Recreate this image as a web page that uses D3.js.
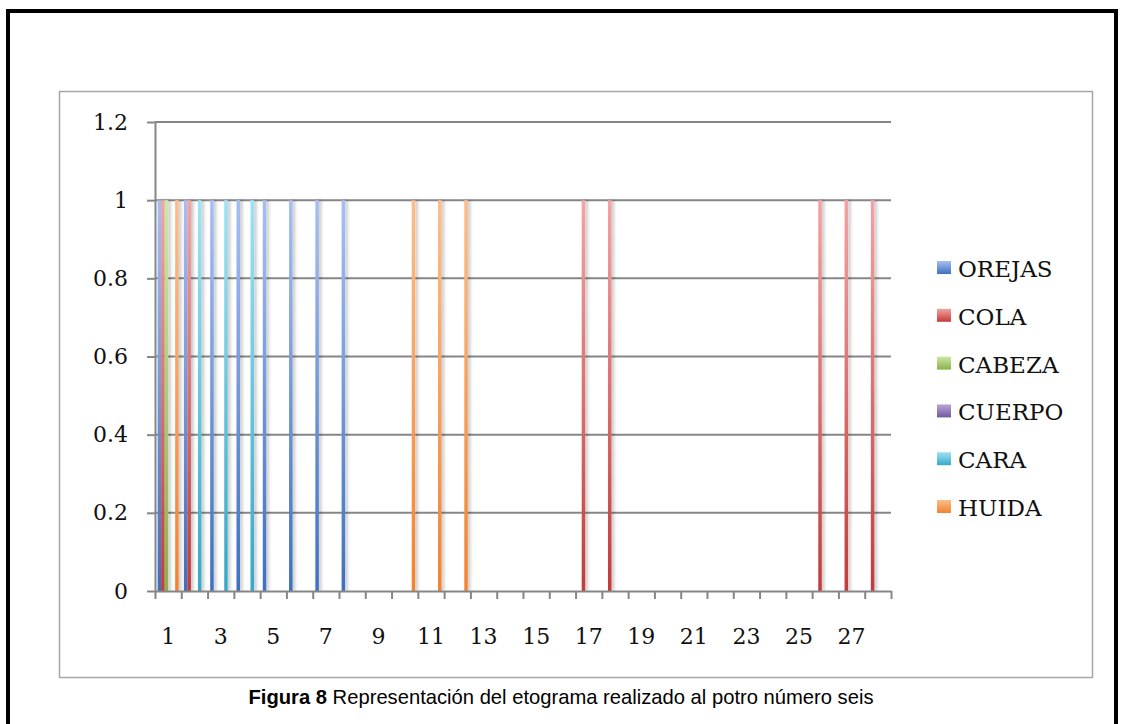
<!DOCTYPE html>
<html>
<head>
<meta charset="utf-8">
<script src="https://cdn.jsdelivr.net/npm/d3@7"></script>
<style>
  html, body { margin: 0; padding: 0; background: #fff; }
  svg { display: block; }
</style>
</head>
<body>
<svg id="chart" width="1122" height="724"></svg>
<script>
// Observation sessions (x axis)
const categories = [1, 2, 3, 4, 5, 6, 7, 8, 9, 10, 11, 12, 13, 14,
                    15, 16, 17, 18, 19, 20, 21, 22, 23, 24, 25, 26, 27, 28];
const xTickLabels = [1, 3, 5, 7, 9, 11, 13, 15, 17, 19, 21, 23, 25, 27];
const yTickValues = [0, 0.2, 0.4, 0.6, 0.8, 1, 1.2];

// Behaviour categories of the ethogram
const seriesNames = ["OREJAS", "COLA", "CABEZA", "CUERPO", "CARA", "HUIDA"];
const orejas = [1, 1, 1, 1, 1, 1, 1, 1, 0, 0, 0, 0, 0, 0, 0, 0, 0, 0, 0, 0, 0, 0, 0, 0, 0, 0, 0, 0];
const cola   = [1, 1, 0, 0, 0, 0, 0, 0, 0, 0, 0, 0, 0, 0, 0, 0, 1, 1, 0, 0, 0, 0, 0, 0, 0, 1, 1, 1];
const cabeza = [1, 0, 0, 0, 0, 0, 0, 0, 0, 0, 0, 0, 0, 0, 0, 0, 0, 0, 0, 0, 0, 0, 0, 0, 0, 0, 0, 0];
const cuerpo = [0, 0, 0, 0, 0, 0, 0, 0, 0, 0, 0, 0, 0, 0, 0, 0, 0, 0, 0, 0, 0, 0, 0, 0, 0, 0, 0, 0];
const cara   = [0, 1, 1, 1, 0, 0, 0, 0, 0, 0, 0, 0, 0, 0, 0, 0, 0, 0, 0, 0, 0, 0, 0, 0, 0, 0, 0, 0];
const huida  = [1, 0, 0, 0, 0, 0, 0, 0, 0, 1, 1, 1, 0, 0, 0, 0, 0, 0, 0, 0, 0, 0, 0, 0, 0, 0, 0, 0];
const seriesValues = [orejas, cola, cabeza, cuerpo, cara, huida];

// Light (top) and deep (bottom) tone of each series
const colorsLight = ["#a6bff2", "#f4a3a3", "#cde8a6", "#b9a6d8", "#9fe2f4", "#fbbd8a"];
const colorsDeep  = ["#3e6fc1", "#c23b3a", "#8cb04a", "#7258a0", "#36a8c6", "#f28330"];

const labelFont = "'DejaVu Serif', 'Liberation Serif', serif";

const svg = d3.select("#chart");
const defs = svg.append("defs");

seriesNames.forEach((name, i) => {
  const g = defs.append("linearGradient")
    .attr("id", "grad" + i)
    .attr("x1", 0).attr("y1", 0).attr("x2", 0).attr("y2", 1);
  g.append("stop").attr("offset", "0%").attr("stop-color", colorsLight[i]);
  g.append("stop").attr("offset", "100%").attr("stop-color", colorsDeep[i]);
});

const shadow = defs.append("filter").attr("id", "barShadow")
  .attr("x", "-200%").attr("y", "-5%").attr("width", "500%").attr("height", "110%");
shadow.append("feDropShadow")
  .attr("dx", 2.5).attr("dy", 0).attr("stdDeviation", 1.4)
  .attr("flood-color", "#000").attr("flood-opacity", 0.22);

// Outer page border
svg.append("rect")
  .attr("x", 8).attr("y", 11).attr("width", 1108).attr("height", 740)
  .attr("fill", "none").attr("stroke", "#000").attr("stroke-width", 4);

// Chart frame
svg.append("rect")
  .attr("x", 59.5).attr("y", 91.5).attr("width", 1033).attr("height", 586)
  .attr("fill", "#fff").attr("stroke", "#a6a6a6").attr("stroke-width", 1.5);

const plot = { left: 155, right: 891, top: 122, bottom: 591 };

const x = d3.scaleBand()
  .domain(categories)
  .range([plot.left, plot.right])
  .paddingInner(0.2)
  .paddingOuter(0.1);

const xBound = d3.scaleLinear()
  .domain([0, categories.length])
  .range([plot.left, plot.right]);

const xs = d3.scaleBand()
  .domain(seriesNames)
  .range([0, x.bandwidth()]);

const y = d3.scaleLinear()
  .domain([0, 1.2])
  .range([plot.bottom, plot.top]);

// Horizontal gridlines
svg.append("g")
  .selectAll("line")
  .data(yTickValues.filter(v => v > 0))
  .join("line")
  .attr("x1", plot.left).attr("x2", plot.right)
  .attr("y1", d => y(d)).attr("y2", d => y(d))
  .attr("stroke", "#868686").attr("stroke-width", 2);

// Bars
const barData = [];
seriesValues.forEach((vals, si) => {
  vals.forEach((v, ci) => {
    if (v > 0) barData.push({ s: si, c: categories[ci], v: v });
  });
});

svg.append("g")
  .selectAll("rect")
  .data(barData)
  .join("rect")
  .attr("x", d => x(d.c) + xs(seriesNames[d.s]))
  .attr("y", d => y(d.v))
  .attr("width", xs.bandwidth())
  .attr("height", d => y(0) - y(d.v))
  .attr("fill", d => "url(#grad" + d.s + ")")
  .attr("filter", "url(#barShadow)");

// Y axis
const yAxis = svg.append("g")
  .attr("transform", `translate(${plot.left},0)`)
  .call(d3.axisLeft(y).tickValues(yTickValues).tickFormat(d3.format("~g"))
    .tickSize(8).tickSizeOuter(0).tickPadding(19));
yAxis.select(".domain").attr("stroke", "#868686").attr("stroke-width", 2);
yAxis.selectAll(".tick line").attr("stroke", "#868686").attr("stroke-width", 2);
yAxis.selectAll("text")
  .attr("fill", "#111")
  .style("font-family", labelFont)
  .style("font-size", "22px");

// X axis: tick marks on category boundaries
const xAxisTicks = svg.append("g")
  .attr("transform", `translate(0,${plot.bottom})`)
  .call(d3.axisBottom(xBound).tickValues(d3.range(0, categories.length + 1))
    .tickFormat("").tickSize(8).tickSizeOuter(0));
xAxisTicks.select(".domain").attr("stroke", "#868686").attr("stroke-width", 2);
xAxisTicks.selectAll(".tick line").attr("stroke", "#868686").attr("stroke-width", 2);

// X axis: labels centred on categories
const xAxisLabels = svg.append("g")
  .attr("transform", `translate(0,${plot.bottom})`)
  .call(d3.axisBottom(x).tickValues(xTickLabels).tickSize(0).tickPadding(37));
xAxisLabels.select(".domain").remove();
xAxisLabels.selectAll("text")
  .attr("fill", "#111")
  .style("font-family", labelFont)
  .style("font-size", "22px");

// Legend
const legend = svg.append("g").attr("transform", "translate(937,269)");
const item = legend.selectAll("g")
  .data(seriesNames)
  .join("g")
  .attr("transform", (d, i) => `translate(0,${i * 47.8})`);
item.append("rect")
  .attr("x", 0).attr("y", -8).attr("width", 14).attr("height", 13)
  .attr("fill", (d, i) => "url(#grad" + i + ")");
item.append("text")
  .attr("x", 21).attr("y", 8)
  .attr("fill", "#111")
  .style("font-family", labelFont)
  .style("font-size", "23px")
  .text(d => d);

// Caption
const caption = svg.append("text")
  .attr("x", 561).attr("y", 704)
  .attr("text-anchor", "middle")
  .style("font-family", "'Liberation Sans', Arial, sans-serif")
  .style("font-size", "20.2px")
  .attr("fill", "#000");
caption.append("tspan").attr("font-weight", "bold").text("Figura 8");
caption.append("tspan").text(" Representación del etograma realizado al potro número seis");
</script>
</body>
</html>
